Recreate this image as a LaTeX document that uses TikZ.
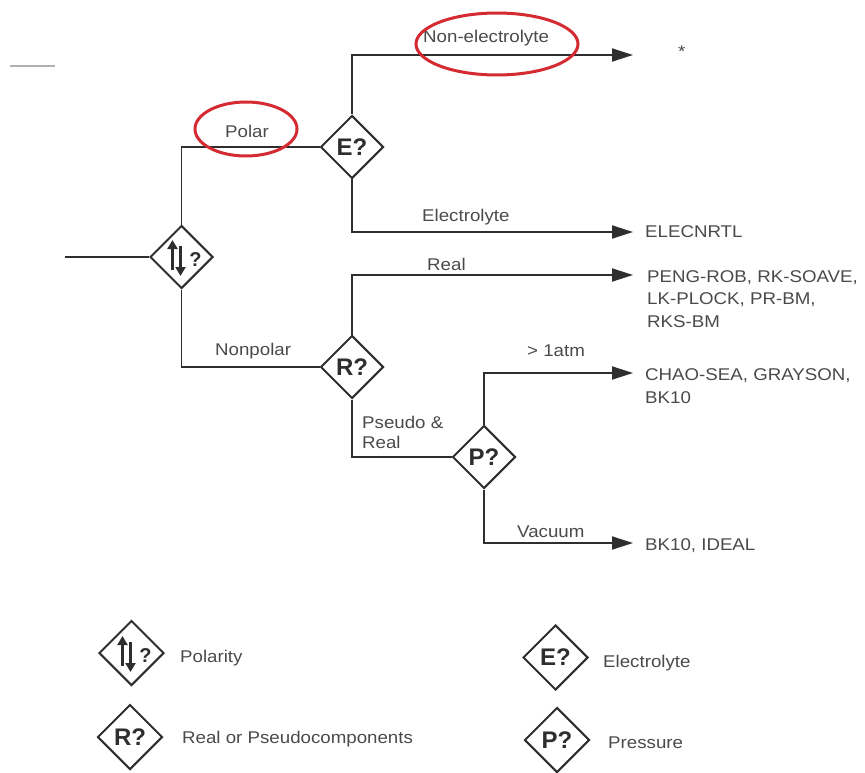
\documentclass[tikz,border=0pt]{standalone}
\usepackage{fontspec}
\setmainfont{Liberation Sans}
\newfontfamily\widesans[FakeStretch=1.1]{Liberation Sans}
\usetikzlibrary{shapes.geometric,arrows.meta}
\definecolor{ink}{HTML}{2E2E2E}
\definecolor{txt}{HTML}{4A4A4A}
\definecolor{mark}{HTML}{D42A32}
\definecolor{faint}{HTML}{B0B0B0}
% up/down arrows plus question mark inside a polarity diamond
\newcommand\polglyph[1]{%
  \begin{scope}[shift={(#1.center)}]
    \draw[ink,line width=3pt,-{Triangle[length=9pt,width=10pt]}] (-9,13) -- (-9,-17);
    \draw[ink,line width=3pt,-{Triangle[length=9pt,width=10pt]}] (-1,-11) -- (-1,19);
    \node[text=ink,font=\fontsize{20}{20}\selectfont\bfseries,inner sep=0pt] at (14,3) {?};
  \end{scope}}
\begin{document}
\begin{tikzpicture}[x=1pt,y=-1pt,
  decision/.style={shape=diamond,draw=ink,line width=2pt,minimum width=63pt,
    minimum height=63pt,inner sep=0pt,aspect=1,
    font=\fontsize{24}{24}\selectfont\bfseries,text=ink},
  keybox/.style={decision,minimum width=65pt,minimum height=65pt},
  flow/.style={draw=ink,line width=1.8pt},
  arrowflow/.style={flow,-{Triangle[length=21pt,width=13pt]}},
  lbl/.style={text=txt,font=\widesans\fontsize{17}{20}\selectfont,
    inner sep=0pt,anchor=base west,align=left},
  result/.style={text=txt,font=\widesans\fontsize{17}{22.5}\selectfont,
    inner sep=0pt,anchor=base west,align=left},
  ring/.style={draw=mark,line width=3pt}]
\useasboundingbox (0,0) rectangle (865,773);

% stray rule in the upper left
\draw[faint,line width=1.5pt] (10,66) -- (55,66);

% decision diamonds
\node[decision] (pol) at (181.5,257) {};
\polglyph{pol}
\node[decision] (elec) at (352,147) {E?};
\node[decision] (real) at (352,367) {R?};
\node[decision] (pres) at (484,457) {P?};

% arrow end points
\coordinate (inL) at (65,257);
\coordinate (tNon) at (633,55);
\coordinate (tEl) at (633,232);
\coordinate (tReal) at (633,275);
\coordinate (tHigh) at (633,373);
\coordinate (tVac) at (633,543);

% connectors
\draw[flow] (inL) -- (pol.west);
\draw[flow] (pol.north) |- (elec.west);
\draw[flow] (pol.south) |- (real.west);
\draw[arrowflow] (elec.north) |- (tNon);
\draw[arrowflow] (elec.south) |- (tEl);
\draw[arrowflow] (real.north) |- (tReal);
\draw[flow] (real.south) |- (pres.west);
\draw[arrowflow] (pres.north) |- (tHigh);
\draw[arrowflow] (pres.south) |- (tVac);

% branch labels (multi-line nodes sit on their last baseline)
\node[lbl] (lNon) at (423,43) {Non-electrolyte};
\node[lbl] (lPolar) at (225,138) {Polar};
\node[lbl] (lEl) at (422,221) {Electrolyte};
\node[lbl] (lReal) at (427,270) {Real};
\node[lbl] (lNonpol) at (215,355) {Nonpolar};
\node[lbl] (lHigh) at (527,356) {> 1atm};
\node[lbl] (lPseudo) at (362,448) {Pseudo \&\\Real};
\node[lbl] (lVac) at (517,537) {Vacuum};

% highlighted labels
\draw[ring] (497,44) ellipse [x radius=81, y radius=31];
\draw[ring] (246,129) ellipse [x radius=51, y radius=27];

% outcomes
\node[result] (rStar) at (678,58) {*};
\node[result] (rEl) at (645,237) {ELECNRTL};
\node[result] (rReal) at (647,327) {PENG-ROB, RK-SOAVE,\\LK-PLOCK, PR-BM,\\RKS-BM};
\node[result] (rHigh) at (645,403) {CHAO-SEA, GRAYSON,\\BK10};
\node[result] (rVac) at (645,550) {BK10, IDEAL};

% key
\node[keybox] (kPol) at (131.5,653) {};
\polglyph{kPol}
\node[lbl] (kPolT) at (180,662) {Polarity};
\node[keybox] (kReal) at (130,737) {R?};
\node[lbl] (kRealT) at (182,743) {Real or Pseudocomponents};
\node[keybox] (kEl) at (555.5,657.5) {E?};
\node[lbl] (kElT) at (603,667) {Electrolyte};
\node[keybox] (kPres) at (557,740) {P?};
\node[lbl] (kPresT) at (608,748) {Pressure};
\end{tikzpicture}
\end{document}
